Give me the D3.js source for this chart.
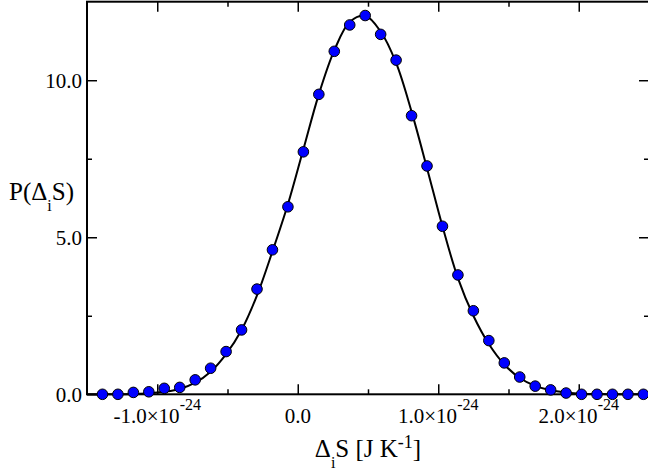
<!DOCTYPE html>
<html>
<head>
<meta charset="utf-8">
<script src="https://cdn.jsdelivr.net/npm/d3@7"></script>
<style>
  body { margin: 0; background: #fff; }
  svg { display: block; }
</style>
</head>
<body>
<script>
// delta_i S in units of 1e-24 J/K (histogram bin centres)
var binX = [-1.39, -1.28, -1.17, -1.06, -0.95, -0.84, -0.73, -0.62, -0.51, -0.40,
            -0.29, -0.18, -0.07, 0.04, 0.15, 0.26, 0.37, 0.48, 0.59, 0.70,
            0.81, 0.92, 1.03, 1.14, 1.25, 1.36, 1.47, 1.58, 1.69, 1.80,
            1.91, 2.02, 2.13, 2.24, 2.35, 2.46];
// histogram (blue dots)
var histP = [0.00, 0.00, 0.06, 0.08, 0.19, 0.22, 0.46, 0.83, 1.36, 2.05,
             3.35, 4.60, 5.97, 7.72, 9.55, 10.92, 11.76, 12.06, 11.46, 10.64,
             8.87, 7.27, 5.35, 3.80, 2.66, 1.71, 1.00, 0.55, 0.26, 0.14,
             0.04, 0.00, 0.00, 0.00, 0.00, 0.00];
// fitted curve (black line), read at the same x
var curveX = [-1.50, -1.39, -1.28, -1.17, -1.06, -0.95, -0.84, -0.73, -0.62, -0.51, -0.40,
              -0.29, -0.18, -0.07, 0.04, 0.15, 0.26, 0.37, 0.48, 0.59, 0.70,
              0.81, 0.92, 1.03, 1.14, 1.25, 1.36, 1.47, 1.58, 1.69, 1.80,
              1.91, 2.02, 2.13, 2.24, 2.35, 2.46, 2.50];
var curveP = [0.00, 0.00, 0.00, 0.01, 0.03, 0.08, 0.17, 0.37, 0.72, 1.28, 2.05,
              3.15, 4.55, 6.05, 7.80, 9.55, 10.95, 11.85, 12.05, 11.55, 10.55,
              9.00, 7.20, 5.35, 3.70, 2.50, 1.60, 0.95, 0.52, 0.27, 0.13,
              0.06, 0.02, 0.01, 0.00, 0.00, 0.00, 0.00];

var xMajor = [-1, 0, 1, 2];
var xMinor = [-0.5, 0.5, 1.5];
var yMajor = [0, 5, 10];
var yMinor = [2.5, 7.5];

var W = 648, H = 472;
// plot box (note: "top" is a reserved window prop, so use other names)
var boxL = 87, boxR = 649, boxT = 1.7, boxB = 394.3;

var svg = d3.select("body").append("svg")
    .attr("width", W)
    .attr("height", H)
    .style("font-family", "'Liberation Serif', 'Times New Roman', serif");

var x = d3.scaleLinear().domain([-1.5, 2.5]).range([boxL, boxR]);
var y = d3.scaleLinear().domain([0, 12.5]).range([boxB, boxT]);

// ticks, all pointing inward
function ticks(axis, vals, size, tx, ty) {
  var g = svg.append("g")
      .attr("transform", "translate(" + tx + "," + ty + ")")
      .call(axis.tickValues(vals).tickSize(size).tickFormat(""));
  g.select(".domain").remove();
  g.selectAll("line").attr("stroke", "#000").attr("stroke-width", 1.5);
  g.selectAll("text").remove();
}
ticks(d3.axisBottom(x), xMajor, -10, 0, boxB);
ticks(d3.axisBottom(x), xMinor, -5, 0, boxB);
ticks(d3.axisTop(x), xMajor, -10, 0, boxT);
ticks(d3.axisTop(x), xMinor, -5, 0, boxT);
ticks(d3.axisLeft(y), yMajor, -10, boxL, 0);
ticks(d3.axisLeft(y), yMinor, -5, boxL, 0);
ticks(d3.axisRight(y), yMajor, -10, boxR, 0);
ticks(d3.axisRight(y), yMinor, -5, boxR, 0);

// frame
svg.append("rect")
    .attr("x", boxL).attr("y", boxT)
    .attr("width", boxR - boxL).attr("height", boxB - boxT)
    .attr("fill", "none").attr("stroke", "#000").attr("stroke-width", 2);

// y tick labels
svg.selectAll(".ylab").data(yMajor).enter().append("text")
    .attr("class", "ylab")
    .attr("x", boxL - 5)
    .attr("y", function (d) { return y(d); })
    .attr("dy", "0.35em")
    .attr("text-anchor", "end")
    .attr("font-size", 21)
    .text(function (d) { return d.toFixed(1); });

// x tick labels
var xl = svg.selectAll(".xlab").data(xMajor).enter().append("text")
    .attr("class", "xlab")
    .attr("x", function (d) { return x(d); })
    .attr("y", 423)
    .attr("text-anchor", "middle")
    .attr("font-size", 21);
xl.append("tspan").text(function (d) { return d === 0 ? "0.0" : d.toFixed(1) + "\u00d710"; });
xl.filter(function (d) { return d !== 0; }).append("tspan")
    .attr("dy", -13).attr("font-size", 16).text("-24");

// curve
var line = d3.line()
    .x(function (d, i) { return x(curveX[i]); })
    .y(function (d) { return y(d); })
    .curve(d3.curveCatmullRom);
svg.append("path")
    .datum(curveP)
    .attr("d", line)
    .attr("fill", "none")
    .attr("stroke", "#000")
    .attr("stroke-width", 2);

// histogram points
svg.selectAll("circle").data(histP).enter().append("circle")
    .attr("cx", function (d, i) { return x(binX[i]); })
    .attr("cy", function (d) { return y(d); })
    .attr("r", 5.3)
    .attr("fill", "#0000ff")
    .attr("stroke", "#000")
    .attr("stroke-width", 1);

// axis titles
var yt = svg.append("text").attr("x", 9).attr("y", 200).attr("font-size", 25);
yt.append("tspan").text("P(\u0394");
yt.append("tspan").attr("dy", 11).attr("font-size", 16).text("i");
yt.append("tspan").attr("dy", -11).text("S)");

var xt = svg.append("text").attr("x", (boxL + boxR) / 2).attr("y", 457)
    .attr("text-anchor", "middle").attr("font-size", 25);
xt.append("tspan").text("\u0394");
xt.append("tspan").attr("dy", 11).attr("font-size", 16).text("i");
xt.append("tspan").attr("dy", -11).text("S [J K");
xt.append("tspan").attr("dy", -9).attr("font-size", 18).text("-1");
xt.append("tspan").attr("dy", 9).text("]");
</script>
</body>
</html>
